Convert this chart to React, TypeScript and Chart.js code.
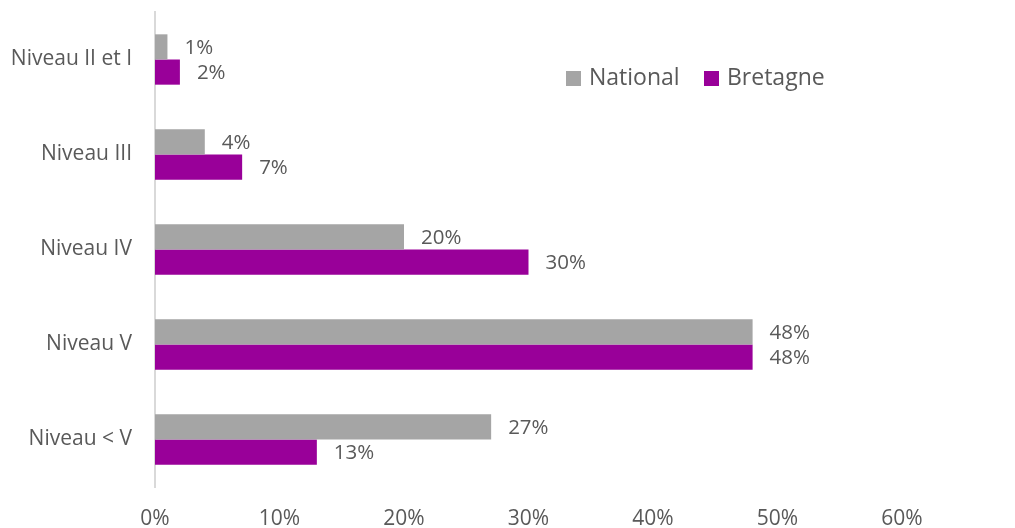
import React, { useEffect, useRef } from "react";
import { Chart, registerables } from "chart.js";

Chart.register(...registerables);

const categories = ["Niveau II et I", "Niveau III", "Niveau IV", "Niveau V", "Niveau < V"];
const nationalValues = [1, 4, 20, 48, 27];
const bretagneValues = [2, 7, 30, 48, 13];
const xTicks = [0, 10, 20, 30, 40, 50, 60];

const TEXT = "#595959";
const FONT = "'Open Sans', 'Noto Sans', sans-serif";

const dataLabelPlugin = {
  id: "dataLabels",
  afterDatasetsDraw(chart: any) {
    const ctx = chart.ctx;
    ctx.save();
    ctx.fillStyle = TEXT;
    ctx.font = `20.5px ${FONT}`;
    ctx.textAlign = "left";
    ctx.textBaseline = "middle";
    chart.data.datasets.forEach((ds: any, i: number) => {
      const meta = chart.getDatasetMeta(i);
      meta.data.forEach((el: any, j: number) => {
        ctx.fillText(`${ds.data[j]}%`, el.x + 17, el.y + 1);
      });
    });
    ctx.restore();
  },
};

const legendPlugin = {
  id: "floatLegend",
  afterDraw(chart: any) {
    const ctx = chart.ctx;
    ctx.save();
    ctx.font = `23px ${FONT}`;
    ctx.textBaseline = "middle";
    ctx.textAlign = "left";
    let x = 566;
    const y = 78;
    chart.data.datasets.forEach((ds: any) => {
      ctx.fillStyle = ds.backgroundColor;
      ctx.fillRect(x, y - 7, 15, 15);
      ctx.fillStyle = TEXT;
      ctx.fillText(ds.label, x + 23, y);
      x += 138;
    });
    ctx.restore();
  },
};

export default function App() {
  const ref = useRef<HTMLCanvasElement>(null);
  useEffect(() => {
    if (!ref.current) return;
    const chart = new Chart(ref.current, {
      type: "bar",
      data: {
        labels: categories,
        datasets: [
          {
            label: "National",
            data: nationalValues,
            backgroundColor: "#a5a5a5",
            categoryPercentage: 0.53,
            barPercentage: 1,
          },
          {
            label: "Bretagne",
            data: bretagneValues,
            backgroundColor: "#990099",
            categoryPercentage: 0.53,
            barPercentage: 1,
          },
        ],
      },
      options: {
        indexAxis: "y",
        animation: false,
        responsive: false,
        layout: { padding: { top: 12, right: 113, left: 0, bottom: 0 } },
        plugins: { legend: { display: false }, tooltip: { enabled: false } },
        scales: {
          x: {
            min: 0,
            max: 60,
            afterBuildTicks: (s: any) => {
              s.ticks = xTicks.map((v) => ({ value: v }));
            },
            afterFit: (s: any) => {
              s.height = 41;
              s.paddingLeft = 0;
              s.paddingRight = 0;
            },
            grid: { display: false, drawTicks: false },
            border: { display: false },
            ticks: {
              padding: 19,
              color: TEXT,
              font: { family: FONT, size: 21 },
              callback: (v: any) => `${v}%`,
            },
          },
          y: {
            afterFit: (s: any) => {
              s.width = 155;
              s.paddingTop = 0;
              s.paddingBottom = 0;
            },
            grid: { display: false, drawTicks: false },
            border: { display: true, color: "#d9d9d9", width: 2 },
            ticks: {
              padding: 23,
              color: TEXT,
              font: { family: FONT, size: 21 },
            },
          },
        },
      },
      plugins: [dataLabelPlugin, legendPlugin],
    });
    return () => chart.destroy();
  }, []);
  return (
    <div style={{ position: "fixed", left: 0, top: 0, width: 1015, height: 528, background: "#fff" }}>
      <canvas ref={ref} width={1015} height={528} style={{ display: "block" }} />
    </div>
  );
}
